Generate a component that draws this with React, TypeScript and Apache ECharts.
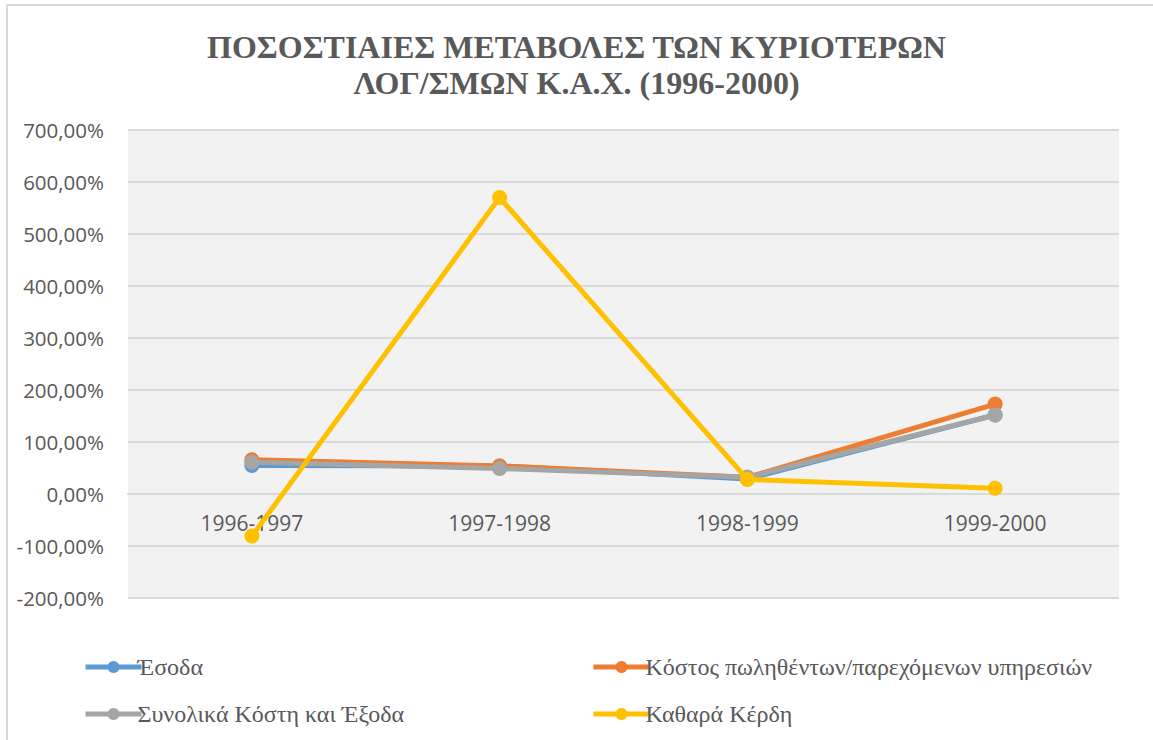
import React, { useEffect, useRef } from "react";
import * as echarts from "echarts";

const categories = ["1996-1997", "1997-1998", "1998-1999", "1999-2000"];
const esoda = [55, 54, 29, 152];
const kostos = [66, 54, 32, 173];
const synolika = [61, 49, 32, 152];
const kerdi = [-81, 570, 28, 11];
const seriesNames = [
  "Έσοδα",
  "Κόστος πωληθέντων/παρεχόμενων υπηρεσιών",
  "Συνολικά Κόστη και Έξοδα",
  "Καθαρά Κέρδη",
];
const colors = ["#5b9bd5", "#ed7d31", "#a5a5a5", "#ffc000"];
const titleLines = ["ΠΟΣΟΣΤΙΑΙΕΣ ΜΕΤΑΒΟΛΕΣ ΤΩΝ ΚΥΡΙΟΤΕΡΩΝ", "ΛΟΓ/ΣΜΩΝ Κ.Α.Χ. (1996-2000)"];

export default function App() {
  const ref = useRef<HTMLDivElement>(null);
  useEffect(() => {
    if (!ref.current) return;
    const chart = echarts.init(ref.current, null, { renderer: "svg" });
    const data = [esoda, kostos, synolika, kerdi];
    const legendPos = [
      { left: 78, top: 650 },
      { left: 586, top: 650 },
      { left: 78, top: 697 },
      { left: 586, top: 697 },
    ];
    chart.setOption({
      animation: false,
      backgroundColor: "#ffffff",
      title: {
        text: titleLines.join("\n"),
        left: "center",
        top: 24,
        textStyle: {
          fontFamily: "Liberation Serif",
          fontWeight: "bold",
          fontSize: 32,
          lineHeight: 36,
          color: "#595959",
        },
      },
      graphic: [
        {
          type: "rect",
          shape: { x: 7, y: 5, width: 1160, height: 760 },
          style: { fill: "none", stroke: "#d9d9d9", lineWidth: 2 },
          silent: true,
          z: -10,
        },
      ],
      legend: legendPos.map((p, i) => ({
        left: p.left,
        top: p.top,
        data: [seriesNames[i]],
        itemWidth: 56,
        itemHeight: 15,
        itemGap: 0,
        lineStyle: { width: 5 },
        textStyle: {
          fontFamily: "Liberation Serif",
          fontSize: 24,
          color: "#595959",
          padding: [0, 0, 0, -9],
        },
      })),
      grid: {
        left: 128,
        right: 34,
        top: 130,
        bottom: 142,
        show: true,
        backgroundColor: "#f2f2f2",
        borderWidth: 0,
      },
      xAxis: {
        type: "category",
        data: categories,
        boundaryGap: true,
        offset: -104,
        axisLine: { show: true, onZero: true, lineStyle: { color: "#d9d9d9", width: 2 } },
        axisTick: { show: false },
        axisLabel: {
          fontFamily: "Open Sans",
          fontSize: 21,
          color: "#595959",
          margin: 18,
        },
      },
      yAxis: {
        type: "value",
        min: -200,
        max: 700,
        interval: 100,
        axisLine: { show: false },
        axisTick: { show: false },
        splitLine: { lineStyle: { color: "#d9d9d9", width: 2 } },
        axisLabel: {
          fontFamily: "Open Sans",
          fontSize: 20.5,
          color: "#595959",
          margin: 24,
          formatter: (v: number) => v.toFixed(2).replace(".", ",") + "%",
        },
      },
      series: data.map((d, i) => ({
        name: seriesNames[i],
        type: "line",
        data: d,
        symbol: "circle",
        symbolSize: 15,
        lineStyle: { width: 5, color: colors[i] },
        itemStyle: { color: colors[i] },
        z: 2 + i,
      })),
    });
    return () => chart.dispose();
  }, []);
  return (
    <div
      ref={ref}
      style={{ position: "fixed", left: 0, top: 0, width: 1153, height: 740 }}
    />
  );
}
